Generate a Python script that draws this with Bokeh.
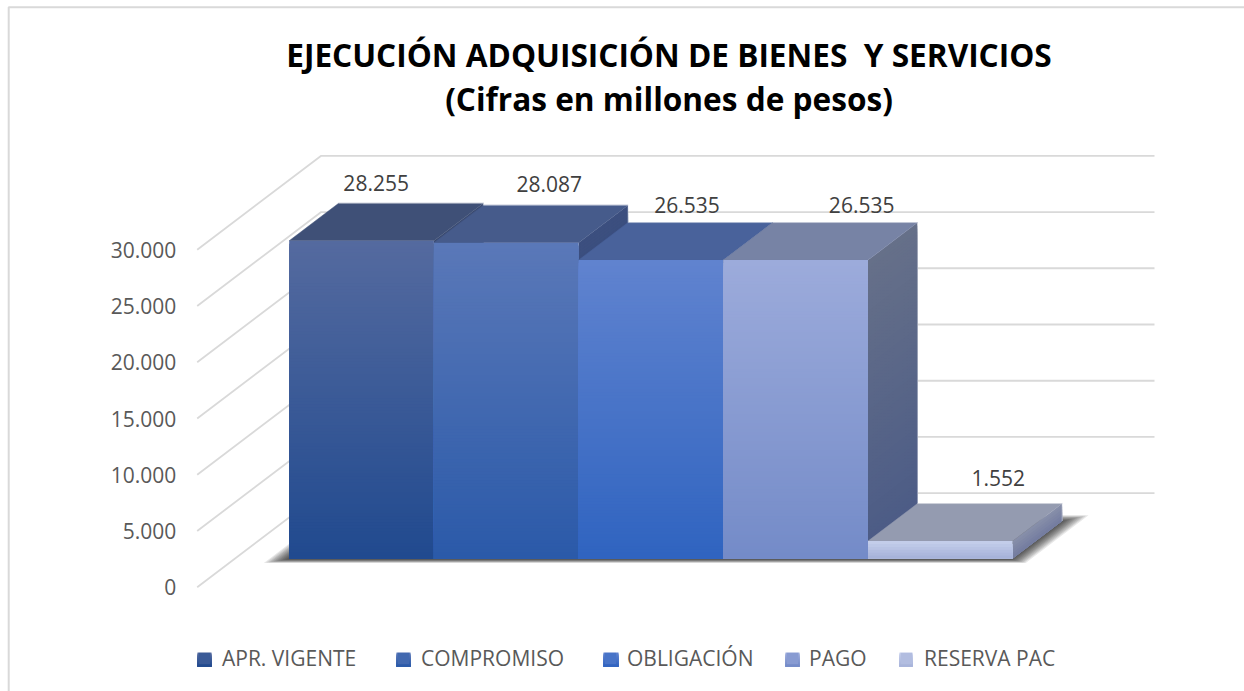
from bokeh.embed import file_html
from bokeh.resources import INLINE
from bokeh.plotting import figure
from bokeh.models import (ColumnDataSource, FixedTicker, Legend, LegendItem,
                          LinearAxis, Range1d)
from bokeh.core.properties import value

# ---------- data ----------
TITLE_LINES = ["EJECUCIÓN ADQUISICIÓN DE BIENES  Y SERVICIOS",
               "(Cifras en millones de pesos)"]
CATEGORIES = ["APR. VIGENTE", "COMPROMISO", "OBLIGACIÓN", "PAGO", "RESERVA PAC"]
VALUES = [28255, 28087, 26535, 26535, 1552]
TICKS = [0, 5000, 10000, 15000, 20000, 25000, 30000]
TICK_LABELS = ["0", "5.000", "10.000", "15.000", "20.000", "25.000", "30.000"]

# ---------- colours (gradient top -> bottom) ----------
FRONT_TOP = ["#546a9f", "#5a78b8", "#6083cf", "#9cabdb", "#c3cdea"]
FRONT_BOTTOM = ["#214a8f", "#2b5aa9", "#3064c0", "#748bc8", "#a7b3da"]
TOP_FACE = ["#3f5077", "#465b8b", "#49629b", "#7783a5", "#949bb0"]
SIDE_TOP = ["#3a4a70", "#3c4f7f", "#3f5590", "#667089", "#868ea9"]
SIDE_BOTTOM = ["#2c4478", "#2c4478", "#3f5590", "#4b5b86", "#757da0"]
GRID = "#d9d9d9"
LABEL = "#404040"
MUTED = "#595959"
FONT = "Open Sans"

# ---------- layout: page pixels of the oblique 3D projection ----------
W, H = 1244, 691
Y0_PX = 586.7           # value 0 at the front of the floor
PX_PER_VALUE = 337.4 / 30000
BAR_W_PX = 144.7
FRONT_X_PX = 196.7      # front end of the wall diagonals
BACK_X_PX = 320.7
BACK_END_PX = 1154.0
DEPTH_X_PX = BACK_X_PX - FRONT_X_PX
DEPTH_Y_PX = 94.0
T_FRONT, T_BACK = 0.305, 0.704   # bar depth as a share of the floor depth
CAT0_PX = 288.7 - T_FRONT * DEPTH_X_PX
DX = DEPTH_X_PX / BAR_W_PX       # depth shift, in category units
DY = DEPTH_Y_PX / PX_PER_VALUE   # depth shift, in value units
LABEL_DX = [14.6, 43, 36, 66, 58]
LABEL_DY = [58, 59, 55, 55, 63]
LEGEND_X = [197, 396, 603, 785, 899]
LEGEND_W = [14, 14, 15, 14, 13]
LEGEND_TEXT_GAP = [11, 11, 10, 10, 11]
LEGEND_Y = (652, 666)


def proj(cat, val, t):
    return cat + t * DX, val + t * DY


def px_x(px):
    return (px - CAT0_PX) / BAR_W_PX


def px_y(py):
    return (Y0_PX - py) / PX_PER_VALUE


def hex_rgb(c):
    return tuple(int(c[i:i + 2], 16) for i in (1, 3, 5))


def mix(a, b, f):
    ca, cb = hex_rgb(a), hex_rgb(b)
    return "#%02x%02x%02x" % tuple(round(x + (y - x) * f) for x, y in zip(ca, cb))


p = figure(width=W, height=H, output_backend="svg", toolbar_location=None,
           x_axis_location=None, y_axis_location=None, min_border=0,
           x_range=Range1d(px_x(0), px_x(W)),
           y_range=Range1d(px_y(H), px_y(0)),
           outline_line_color=None, background_fill_color="white",
           border_fill_color="white")
p.grid.visible = False

# chart border (left and top only reach the picture)
p.multi_line([[px_x(8.2), px_x(8.2), px_x(W)]],
             [[px_y(H), px_y(6.7), px_y(6.7)]], line_color=GRID, line_width=2)

# wall grid
xs, ys = [], []
for t in TICKS:
    xa, ya = px_x(FRONT_X_PX), t
    xb, yb = px_x(BACK_X_PX), t + DY
    xs.append([xa, xb, px_x(BACK_END_PX)])
    ys.append([ya, yb, yb])
p.multi_line(xs, ys, line_color=GRID, line_width=1.8)

# axis
axis = LinearAxis(ticker=FixedTicker(ticks=TICKS),
                  major_label_overrides=dict(zip(TICKS, TICK_LABELS)),
                  fixed_location=px_x(FRONT_X_PX),
                  axis_line_color=None, major_tick_line_color=None,
                  minor_tick_line_color=None, major_label_standoff=15,
                  major_label_text_font=FONT, major_label_text_font_size="21px",
                  major_label_text_color=MUTED)
p.add_layout(axis, "left")

# blurred floor shadow
LAYERS = 14
for i in range(LAYERS):
    f = i / (LAYERS - 1)
    c0 = -0.135 + f * 0.17
    c1 = len(VALUES) + 0.13 - f * 0.17
    t0 = 0.258 + f * 0.05
    t1 = 0.765 - f * 0.08
    corners = [proj(c0, 0, t0), proj(c1, 0, t0), proj(c1, 0, t1), proj(c0, 0, t1)]
    p.patch([a for a, _ in corners], [b for _, b in corners],
            fill_color="black", fill_alpha=0.095, line_color=None)

# bars, left to right; each gradient strip runs down to the base and the
# next one paints over it, so no seams show between strips
fronts = []
n_bars = len(VALUES)
for i, v in enumerate(VALUES):
    n = max(6, int(v * PX_PER_VALUE / 3))
    # side face
    sx, sy, sc = [], [], []
    for k in range(n):
        hi = v * (1 - k / n)
        a = proj(i + 1, hi, T_FRONT)
        b = proj(i + 1, hi, T_BACK)
        c = proj(i + 1, 0, T_BACK)
        d = proj(i + 1, 0, T_FRONT)
        sx.append([a[0], b[0], c[0], d[0]])
        sy.append([a[1], b[1], c[1], d[1]])
        sc.append(mix(SIDE_TOP[i], SIDE_BOTTOM[i], k / (n - 1)))
    p.patches("x", "y", source=ColumnDataSource(dict(x=sx, y=sy, c=sc)),
              fill_color="c", line_color=None)
    # top face
    q = [proj(i, v, T_FRONT), proj(i + 1, v, T_FRONT),
         proj(i + 1, v, T_BACK), proj(i, v, T_BACK)]
    p.patch([a for a, _ in q], [b for _, b in q], fill_color=TOP_FACE[i],
            line_color=TOP_FACE[i], line_width=0.5)
    # light rim along the back of the top face and the back of the side
    rim = [proj(i, v, T_BACK), proj(i + 1, v, T_BACK), proj(i + 1, 0, T_BACK)]
    p.line([a for a, _ in rim], [b for _, b in rim], line_color="white",
           line_alpha=0.4, line_width=1)
    # front face
    x_l = proj(i, 0, T_FRONT)[0]
    y_off = proj(i, 0, T_FRONT)[1]
    src = ColumnDataSource(dict(
        left=[x_l] * n, right=[x_l + 1] * n,
        top=[y_off + v * (1 - k / n) for k in range(n)],
        bottom=[y_off] * n,
        c=[mix(FRONT_TOP[i], FRONT_BOTTOM[i], k / (n - 1)) for k in range(n)]))
    fronts.append((p.quad("left", "right", "top", "bottom", source=src,
                          fill_color="c", line_color=None), n // 2))

# data labels
lab = ColumnDataSource(dict(
    x=[proj(i + 0.5, 0, T_FRONT)[0] for i in range(n_bars)],
    y=[proj(0, v, T_FRONT)[1] for v in VALUES],
    t=[f"{v:,}".replace(",", ".") for v in VALUES],
    dx=LABEL_DX, dy=[-d for d in LABEL_DY]))
p.text("x", "y", text="t", x_offset="dx", y_offset="dy", source=lab,
       text_font=value(FONT), text_font_size="21px", text_color=LABEL,
       text_align="center", text_baseline="middle")

# title (the no-break space keeps the original's double space in SVG)
p.text([px_x(668.5)] * 2, [px_y(54), px_y(98)],
       text=[t.replace("  ", " \u00a0") for t in TITLE_LINES],
       text_font=value(FONT), text_font_style="bold", text_font_size="31.6px",
       text_color="black", text_align="center", text_baseline="middle")

# legend: one box per series so each entry keeps the original's position,
# with a gradient swatch painted over each key
for i, (c, (r, idx)) in enumerate(zip(CATEGORIES, fronts)):
    legend = Legend(items=[LegendItem(label=c, renderers=[r], index=idx)],
                    orientation="horizontal", location=(LEGEND_X[i], 19),
                    background_fill_alpha=0, border_line_color=None, margin=0, padding=0,
                    glyph_width=14, glyph_height=14,
                    label_standoff=LEGEND_TEXT_GAP[i],
                    label_text_font=FONT, label_text_font_size="21px",
                    label_text_color=MUTED)
    p.add_layout(legend)
    m = LEGEND_Y[1] - LEGEND_Y[0]
    p.quad(left=px_x(LEGEND_X[i]), right=px_x(LEGEND_X[i] + LEGEND_W[i]),
           top=[px_y(LEGEND_Y[0] + k) for k in range(m)],
           bottom=px_y(LEGEND_Y[1]),
           fill_color=[mix(FRONT_TOP[i], FRONT_BOTTOM[i], k / (m - 1)) for k in range(m)],
           line_color=None, level="overlay")

open("out.html", "w").write(file_html(p, INLINE))
